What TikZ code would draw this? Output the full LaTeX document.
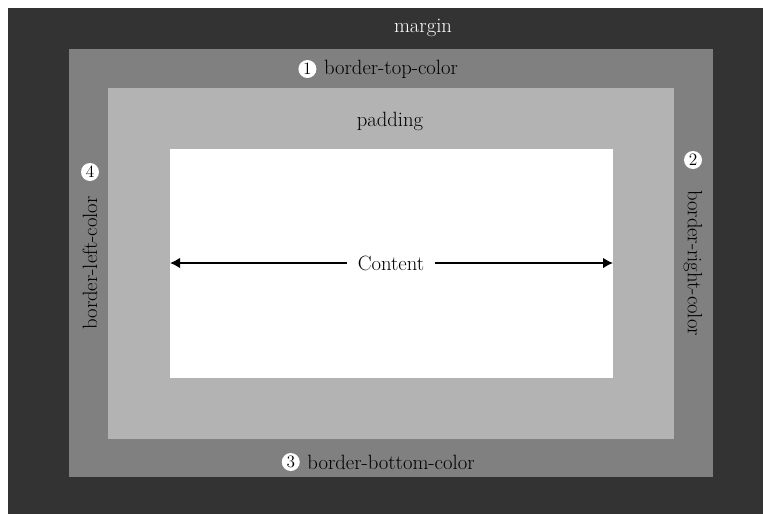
\documentclass[tikz,border=0pt]{standalone}
\usetikzlibrary{arrows.meta,positioning}
\definecolor{marginc}{HTML}{333333}
\definecolor{borderc}{HTML}{808080}
\definecolor{paddingc}{HTML}{B3B3B3}

\begin{document}
\begin{tikzpicture}[x=0.75pt,y=-0.75pt,>={Latex[length=7.5pt,width=8pt]},
  lbl/.style={font=\fontsize{15.5}{18}\selectfont},
  num/.style={circle,fill=white,inner sep=0pt,minimum size=13.5pt,font=\fontsize{13}{13}\selectfont}]
  \useasboundingbox (0,0) rectangle (763,514);
  % nested boxes
  \fill[white] (0,0) rectangle (763,514);
  \fill[marginc] (8,8) rectangle (763,514);
  \fill[borderc] (69,49) rectangle (713,477);
  \fill[paddingc] (108,88) rectangle (674,439);
  \fill[white] (170,149) rectangle (613,378);
  \coordinate (cl) at (170,263);
  \coordinate (cr) at (613,263);

  \node[lbl,text=white] (margin) at (423,28) {margin};
  \node[lbl] (padding) at (390,121) {padding};

  \node[lbl] (top) at (391,69) {border-top-color};
  \node[num,left=2pt of top] (n1) {1};
  \node[lbl] (bottom) at (391,462) {border-bottom-color};
  \node[num,left=2pt of bottom] (n3) {3};
  \node[lbl,rotate=-90] (right) at (693,263) {border-right-color};
  \node[num] (n2) at (693,160) {2};
  \node[lbl,rotate=90] (left) at (90,263) {border-left-color};
  \node[num] (n4) at (90,172) {4};

  % content arrow
  \node[lbl,fill=white,inner xsep=8pt] (content) at (391,263) {Content};
  \draw[->,line width=1.2pt] (content) -- (cl);
  \draw[->,line width=1.2pt] (content) -- (cr);
\end{tikzpicture}
\end{document}
